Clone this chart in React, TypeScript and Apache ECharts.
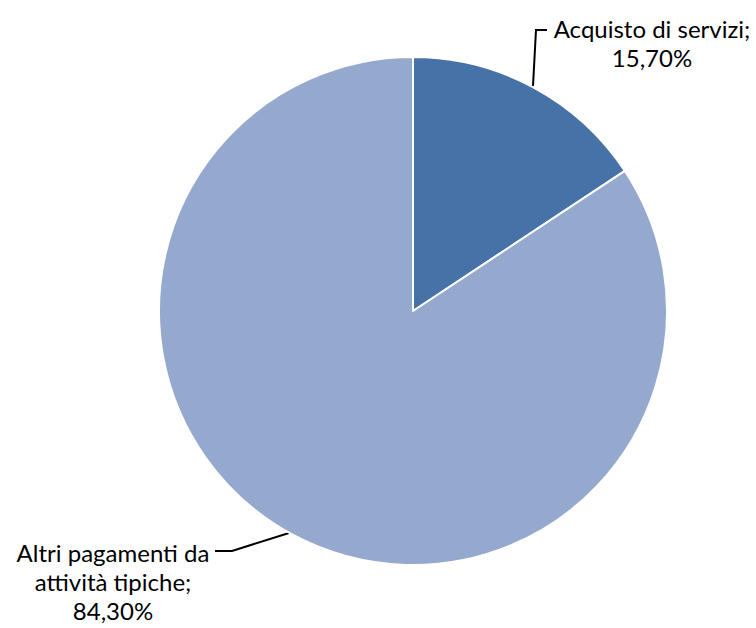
import React, { useEffect, useRef } from "react";
import * as echarts from "echarts";

const categories = ["Acquisto di servizi", "Altri pagamenti da attività tipiche"];
const labelNames = ["Acquisto di servizi;", "Altri pagamenti da\nattività tipiche;"];
const values = [15.7, 84.3];
const colors = ["#4672A8", "#95A9CF"];

export default function App() {
  const ref = useRef<HTMLDivElement>(null);
  useEffect(() => {
    if (!ref.current) return;
    const chart = echarts.init(ref.current, null, { renderer: "svg" });
    const labelPos = [
      { x: 652, y: 43, line: [[533, 86], [536, 30], [547, 30]] },
      { x: 113, y: 581, line: [[289, 533], [232, 551], [215, 551]] },
    ];
    chart.setOption({
      animation: false,
      backgroundColor: "#ffffff",
      series: [
        {
          type: "pie",
          center: [413, 311],
          radius: [0, 254],
          startAngle: 90,
          clockwise: true,
          avoidLabelOverlap: false,
          itemStyle: { borderColor: "#ffffff", borderWidth: 2 },
          label: {
            show: true,
            color: "#000000",
            fontFamily: "Lato, 'Open Sans', sans-serif",
            fontSize: 24,
            lineHeight: 29,
            align: "center",
            overflow: "none",
            width: 260,
            formatter: (p: any) =>
              `${labelNames[p.dataIndex]}\n${p.value.toFixed(2).replace(".", ",")}%`,
          },
          labelLine: { show: true, lineStyle: { color: "#000000", width: 2 } },
          labelLayout: (p: any) => {
            const lp = labelPos[p.dataIndex];
            return {
              x: lp.x,
              y: lp.y,
              align: "center",
              verticalAlign: "middle",
              labelLinePoints: lp.line,
            };
          },
          data: categories.map((name, i) => ({
            name,
            value: values[i],
            itemStyle: { color: colors[i] },
          })),
        },
      ],
    });
    return () => chart.dispose();
  }, []);
  return (
    <div
      ref={ref}
      style={{ position: "fixed", left: 0, top: 0, width: 756, height: 628 }}
    />
  );
}
